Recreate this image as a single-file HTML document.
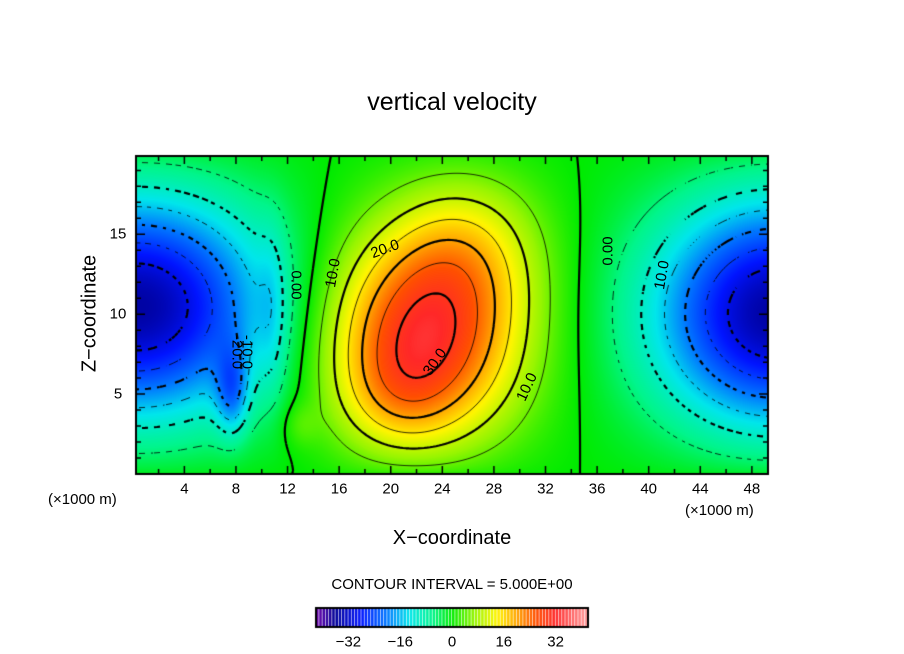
<!DOCTYPE html>
<html><head><meta charset="utf-8"><style>
body{margin:0;background:#fff;width:904px;height:654px;overflow:hidden;position:relative;font-family:"Liberation Sans","DejaVu Sans",sans-serif;}
.t{position:absolute;color:#000;white-space:nowrap;}
</style></head><body>
<div class="t" style="left:0;width:904px;text-align:center;top:88px;font-size:25px;">vertical velocity</div>
<canvas id="cv" width="904" height="654" style="position:absolute;left:0;top:0"></canvas>
<div class="t" style="left:48px;top:491px;font-size:15px;">(×1000 m)</div>
<div class="t" style="left:685px;top:502px;font-size:15px;">(×1000 m)</div>
<div class="t" style="left:0;width:904px;text-align:center;top:527px;font-size:20px;">X−coordinate</div>
<div class="t" style="left:30px;top:302px;width:120px;text-align:center;font-size:20px;transform:rotate(-90deg);">Z−coordinate</div>
<div class="t" style="left:0;width:904px;text-align:center;top:576px;font-size:15px;">CONTOUR INTERVAL = 5.000E+00</div>
<div id="labels"></div>
<script>
// blob model
const blobX   = [22.5, 26, 0.3, 7.7, 49.8, 10.8, 13, 20.5];
const blobZ   = [8.2, 14.5, 10.5, 5, 10, 10, 3, 4.5];
const blobAmp = [30.5, 10, -35, -14, -35, -5, 4, 6];
const blobSx  = [5.2, 4, 7.2, 0.9, 6.6, 0.8, 1, 3];
const blobSz  = [5.0, 3.6, 5.4, 2, 5.6, 4, 1, 2.5];
const xTicks = [4,8,12,16,20,24,28,32,36,40,44,48];
const zTicks = [5,10,15];
const cbTicks = [-32,-16,0,16,32];
const contourLevels = [-30,-25,-20,-15,-10,-5,0,5,10,15,20,25,30];
const cmapV = [-42,-36,-28,-20,-13,-6,0,7,14,20,26,32,42];
const cmapC = [[110,0,170],[0,0,150],[0,20,255],[0,120,255],[0,230,235],[0,245,140],[0,235,0],[150,245,0],[255,245,0],[255,165,0],[255,80,0],[255,40,40],[255,160,160]];

const X0=0.25,X1=49.25,Z0=0,Z1=19.9,PL=136,PR=768,PT=156,PB=474;
const sx=x=>PL+(x-X0)/(X1-X0)*(PR-PL), sz=z=>PB-(z-Z0)/(Z1-Z0)*(PB-PT);
const ix=p=>X0+(p-PL)/(PR-PL)*(X1-X0), iz=p=>Z0+(PB-p)/(PB-PT)*(Z1-Z0);
function field(x,z){let v=0;for(let i=0;i<blobX.length;i++){const dx=(x-blobX[i])/blobSx[i],dz=(z-blobZ[i])/blobSz[i];v+=blobAmp[i]*Math.exp(-0.5*(dx*dx+dz*dz));}
 return v*Math.pow(Math.max(0,Math.sin(Math.PI*z/20.5)),0.3);}
function cmap(v){if(v<=cmapV[0])return cmapC[0];for(let i=1;i<cmapV.length;i++){if(v<=cmapV[i]){const t=(v-cmapV[i-1])/(cmapV[i]-cmapV[i-1]),a=cmapC[i-1],b=cmapC[i];return [0,1,2].map(k=>Math.round(a[k]+(b[k]-a[k])*t));}}return cmapC[cmapC.length-1];}
const cv=document.getElementById('cv'),ctx=cv.getContext('2d');
const W=PR-PL,H=PB-PT,img=ctx.createImageData(W,H);
for(let j=0;j<H;j++)for(let i=0;i<W;i++){const c=cmap(field(ix(PL+i+0.5),iz(PT+j+0.5)));const o=(j*W+i)*4;img.data[o]=c[0];img.data[o+1]=c[1];img.data[o+2]=c[2];img.data[o+3]=255;}
ctx.putImageData(img,PL,PT);
// contours (marching squares)
const N=3,gw=Math.ceil(W/N)+1,gh=Math.ceil(H/N)+1,g=[];
for(let j=0;j<gh;j++){g.push([]);for(let i=0;i<gw;i++)g[j].push(field(ix(PL+i*N),iz(PT+j*N)));}
ctx.save();ctx.beginPath();ctx.rect(PL,PT,W,H);ctx.clip();
contourLevels.forEach(L=>{
 ctx.beginPath();
 for(let j=0;j<gh-1;j++)for(let i=0;i<gw-1;i++){
  const a=g[j][i],b=g[j][i+1],c=g[j+1][i+1],d=g[j+1][i];const pts=[];
  const e=(v1,v2,x1,y1,x2,y2)=>{if((v1<L)!==(v2<L)){const t=(L-v1)/(v2-v1);pts.push([x1+(x2-x1)*t,y1+(y2-y1)*t]);}};
  const X=PL+i*N,Y=PT+j*N;
  e(a,b,X,Y,X+N,Y);e(b,c,X+N,Y,X+N,Y+N);e(c,d,X+N,Y+N,X,Y+N);e(d,a,X,Y+N,X,Y);
  for(let k=0;k+1<pts.length;k+=2){ if(L<0 && ((i+j)%4>1))continue; ctx.moveTo(pts[k][0],pts[k][1]);ctx.lineTo(pts[k+1][0],pts[k+1][1]);}
 }
 ctx.lineWidth=(L%10===0)?2.2:0.8;ctx.strokeStyle='#000';ctx.stroke();
});
ctx.restore();
// frame and ticks
ctx.strokeStyle='#000';ctx.lineWidth=2;ctx.strokeRect(PL,PT,W,H);ctx.lineWidth=1.5;ctx.beginPath();
for(let x=2;x<49;x+=2){const p=sx(x),L=(x%4===0)?8:5;ctx.moveTo(p,PB);ctx.lineTo(p,PB-L);ctx.moveTo(p,PT);ctx.lineTo(p,PT+L);}
for(let z=1;z<20;z++){const p=sz(z),L=(z%5===0)?9:5;ctx.moveTo(PL,p);ctx.lineTo(PL+L,p);ctx.moveTo(PR,p);ctx.lineTo(PR-L,p);}
ctx.stroke();
// colorbar
const CL=316,CR=588,CT=608,CB=627,cbMin=-42,cbMax=42;
for(let v=cbMin;v<cbMax;v++){const c=cmap(v+0.5);ctx.fillStyle=`rgb(${c})`;const x1=CL+(v-cbMin)/(cbMax-cbMin)*(CR-CL);ctx.fillRect(x1,CT,(CR-CL)/(cbMax-cbMin)*0.7+0.3,CB-CT);}
ctx.lineWidth=2;ctx.strokeRect(CL,CT,CR-CL,CB-CT);
const lab=document.getElementById('labels');
function addT(txt,x,y,fs,name,rot){const d=document.createElement('div');d.className='t';d.textContent=txt;d.style.left=x+'px';d.style.top=y+'px';d.style.fontSize=fs+'px';d.style.transform='translate(-50%,-50%)'+(rot?` rotate(${rot}deg)`:'');
 
 
 lab.appendChild(d);}
xTicks.forEach(x=>addT(String(x),sx(x),489,15,'x-tick-label'));
zTicks.forEach(z=>addT(String(z),118,sz(z),15,'y-tick-label'));
cbTicks.forEach(v=>addT(v<0?'−'+(-v):String(v),CL+(v-cbMin)/(cbMax-cbMin)*(CR-CL),642,15,'colorbar-tick-label'));
const cl=[['20.0',385,249,-20],['10.0',333,273,-80],['0.00',296,285,90],['30.0',435,362,-55],['10.0',527,387,-65],['0.00',608,251,-90],['10.0',662,275,-80],['-20.0',237,352,90],['-10.0',247,352,90]];
cl.forEach(c=>addT(c[0],c[1],c[2],15,'contour-label',c[3]));
</script>
</body></html>
